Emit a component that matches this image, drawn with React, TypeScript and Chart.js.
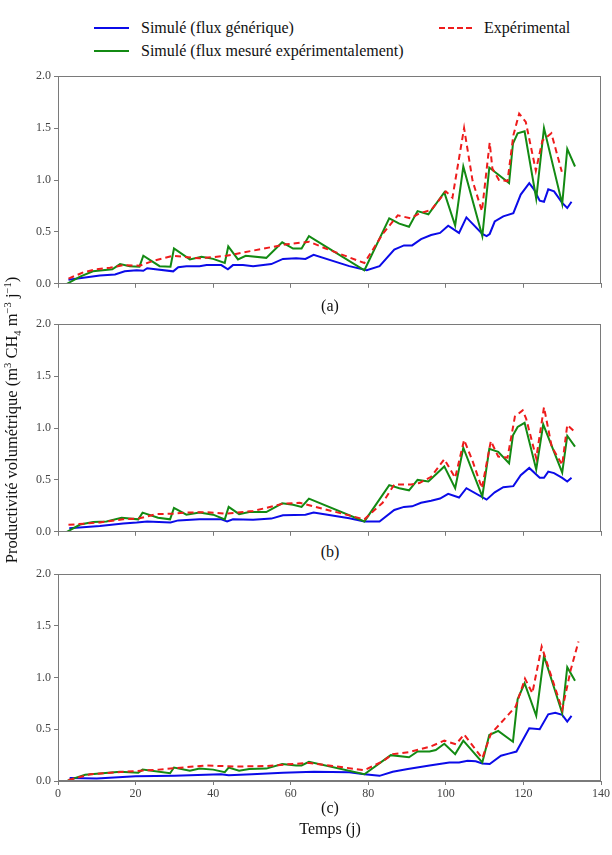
import React, { useEffect, useRef } from "react";
import { Chart, registerables } from "chart.js";
Chart.register(...registerables);

const FONT = '"Liberation Serif", "Times New Roman", Times, serif';
const BLUE = "#0b0be8";
const GREEN = "#138a13";
const RED = "#ee1c1c";
const AXIS = "#7a7a7a";
const TICK_TEXT = "#444444";

const xTicks = [0, 20, 40, 60, 80, 100, 120, 140];
const yTicks = [0, 0.5, 1.0, 1.5, 2.0];

// ---------- Panel (a) ----------
const aBlueDays = [2.7, 10.8, 14.7, 17.2, 20.3, 22, 23, 29.7, 31, 33.1, 36.5, 38.3, 42.1, 43.8, 45.1, 47.7, 50.3, 55, 58, 61.4, 63.8, 65.9, 75.1, 79.6, 82.9, 86.7, 89.2, 91.3, 93.6, 96.2, 98.5, 100.6, 103.4, 105.3, 109.4, 110.5, 111.3, 112.6, 114.8, 117.4, 119.3, 121.5, 122.7, 124.2, 125.3, 126.4, 127.9, 130.0, 131.3, 132.4];
const aBlueVals = [0.04, 0.08, 0.09, 0.12, 0.13, 0.125, 0.15, 0.12, 0.16, 0.17, 0.17, 0.18, 0.18, 0.14, 0.18, 0.18, 0.17, 0.19, 0.24, 0.245, 0.24, 0.28, 0.17, 0.13, 0.17, 0.33, 0.37, 0.37, 0.43, 0.47, 0.49, 0.56, 0.49, 0.64, 0.48, 0.46, 0.48, 0.60, 0.65, 0.68, 0.86, 0.97, 0.91, 0.80, 0.79, 0.91, 0.89, 0.78, 0.73, 0.79];
const aGreenDays = [2.3, 5.7, 9, 14, 16, 18.5, 21, 22, 26.2, 29, 29.9, 34, 37, 40, 43, 43.9, 46.4, 48.4, 53.7, 57.8, 60.6, 62.8, 64.7, 79, 85.4, 88, 90.5, 92.7, 95.5, 99.6, 102.4, 104.5, 109.4, 111.2, 116.3, 117.3, 118.5, 120.3, 123.3, 125.3, 130, 131.3, 133.3];
const aGreenVals = [0, 0.07, 0.12, 0.14, 0.19, 0.17, 0.165, 0.27, 0.17, 0.165, 0.34, 0.235, 0.26, 0.24, 0.20, 0.36, 0.235, 0.27, 0.25, 0.40, 0.34, 0.34, 0.46, 0.13, 0.63, 0.58, 0.55, 0.70, 0.67, 0.88, 0.56, 1.13, 0.46, 1.12, 0.97, 1.35, 1.45, 1.47, 0.82, 1.50, 0.77, 1.30, 1.13];
const aRedDays = [2.7, 6.5, 9.9, 13.4, 16.8, 21.1, 24.5, 29.7, 36.5, 43.4, 50.3, 58.8, 64.8, 69, 79, 83.7, 87.6, 91, 93.2, 96.2, 100, 101.7, 104.7, 106.9, 109.3, 111.3, 112, 113.7, 115.9, 117.4, 118.9, 120.6, 123.2, 124.9, 127.2, 129.9];
const aRedVals = [0.05, 0.11, 0.14, 0.155, 0.18, 0.175, 0.22, 0.27, 0.245, 0.27, 0.32, 0.38, 0.405, 0.34, 0.20, 0.48, 0.66, 0.63, 0.68, 0.71, 0.89, 0.83, 1.50, 0.99, 0.70, 1.36, 1.11, 1.00, 0.99, 1.43, 1.64, 1.56, 1.09, 1.38, 1.45, 1.08];

// ---------- Panel (b) ----------
const bBlueDays = [2.9, 10.8, 16.8, 20.3, 23, 29, 31, 36.5, 42.1, 43.6, 45.1, 50.3, 55, 58, 63.8, 65.9, 75.1, 79, 82.9, 86.7, 89.2, 91.3, 93.6, 96.2, 98.5, 100.6, 103.4, 105.3, 110.5, 112.6, 114.8, 117.4, 119.3, 121.5, 124.2, 125.3, 126.4, 127.9, 130, 131.3, 132.4];
const bBlueVals = [0.035, 0.057, 0.08, 0.09, 0.10, 0.09, 0.11, 0.12, 0.12, 0.10, 0.12, 0.115, 0.127, 0.16, 0.165, 0.185, 0.13, 0.10, 0.10, 0.21, 0.24, 0.245, 0.28, 0.30, 0.32, 0.365, 0.33, 0.42, 0.31, 0.38, 0.43, 0.44, 0.545, 0.615, 0.52, 0.52, 0.58, 0.565, 0.52, 0.485, 0.52];
const bGreenDays = [2.3, 5.7, 9.1, 12.5, 16.4, 20.7, 21.8, 25.8, 28.9, 29.9, 33.1, 36.5, 40, 43, 44, 46.7, 49.3, 53.7, 57.8, 60.6, 62.8, 64.7, 79, 85.4, 88, 90.5, 92.7, 95.5, 99.6, 102.4, 104.5, 109.4, 111.2, 113.5, 116.3, 117.3, 118.5, 120.3, 123.3, 125.1, 130, 131.3, 133.3];
const bGreenVals = [0, 0.07, 0.095, 0.10, 0.135, 0.12, 0.185, 0.135, 0.12, 0.23, 0.165, 0.185, 0.165, 0.12, 0.24, 0.17, 0.19, 0.19, 0.275, 0.26, 0.24, 0.32, 0.10, 0.45, 0.42, 0.40, 0.50, 0.485, 0.63, 0.42, 0.81, 0.34, 0.80, 0.77, 0.66, 0.93, 1.01, 1.05, 0.60, 1.035, 0.57, 0.925, 0.82];
const bRedDays = [2.7, 10.8, 16.8, 21, 25.3, 29.7, 33.1, 38.3, 43.4, 50.3, 58, 62.3, 67.5, 79, 83.7, 86.7, 91, 93.2, 96.2, 99.6, 102.4, 104.7, 106.9, 109.3, 111.6, 113.5, 115.9, 117.8, 119.8, 120.7, 123.3, 125.3, 127.3, 130, 131.3, 133.3];
const bRedVals = [0.067, 0.09, 0.12, 0.13, 0.17, 0.175, 0.185, 0.19, 0.175, 0.20, 0.27, 0.28, 0.23, 0.12, 0.28, 0.455, 0.455, 0.47, 0.53, 0.70, 0.52, 0.885, 0.68, 0.42, 0.875, 0.725, 0.715, 1.11, 1.17, 1.09, 0.71, 1.20, 0.82, 0.645, 1.03, 0.96];

// ---------- Panel (c) ----------
const cBlueDays = [3, 10, 20, 30, 42, 44, 50, 58, 66, 75.1, 79, 82.9, 86.3, 90.2, 95.8, 100.9, 103.4, 105.6, 107.7, 109.4, 111.3, 114.2, 116.2, 118.2, 121.5, 124.2, 126.4, 128.2, 130, 131.3, 132.4];
const cBlueVals = [0.03, 0.025, 0.045, 0.05, 0.065, 0.055, 0.065, 0.08, 0.09, 0.085, 0.065, 0.05, 0.09, 0.115, 0.15, 0.18, 0.18, 0.195, 0.19, 0.17, 0.165, 0.245, 0.265, 0.285, 0.51, 0.50, 0.645, 0.66, 0.64, 0.575, 0.63];
const cGreenDays = [2.3, 4.5, 7, 16, 20.7, 21.8, 28.9, 29.9, 34, 36.5, 40, 43, 44, 46.7, 49.3, 53.7, 57.8, 61.4, 62.8, 64.7, 79, 85.8, 90.5, 92.7, 95.8, 97.4, 99.6, 102.4, 104.5, 109.4, 111.2, 113.5, 117.3, 118.5, 120.3, 123.3, 125.3, 130, 131.3, 133.3];
const cGreenVals = [0, 0.03, 0.06, 0.09, 0.08, 0.11, 0.075, 0.13, 0.10, 0.12, 0.11, 0.085, 0.13, 0.10, 0.115, 0.12, 0.165, 0.15, 0.15, 0.185, 0.065, 0.25, 0.23, 0.285, 0.285, 0.30, 0.36, 0.26, 0.39, 0.18, 0.445, 0.485, 0.38, 0.79, 0.945, 0.63, 1.21, 0.655, 1.10, 0.97];
const cRedDays = [2.7, 8.3, 17.2, 26, 38, 46, 53.7, 58.8, 64.8, 70.8, 79, 83.7, 86.3, 90.5, 95.8, 99.6, 102.6, 104.7, 109.4, 111.6, 118, 120.4, 122.3, 124.7, 130, 132.2, 134.2];
const cRedVals = [0.01, 0.065, 0.09, 0.11, 0.15, 0.14, 0.145, 0.16, 0.175, 0.145, 0.105, 0.19, 0.26, 0.28, 0.33, 0.39, 0.355, 0.45, 0.22, 0.455, 0.72, 0.99, 0.85, 1.30, 0.69, 1.075, 1.35];

const pts = (d: number[], v: number[]) => d.map((x, i) => ({ x, y: v[i] }));

const framePlugin = {
  id: "frame",
  afterDraw(chart: any) {
    const { ctx, chartArea: a } = chart;
    ctx.save();
    ctx.strokeStyle = AXIS;
    ctx.lineWidth = 1;
    ctx.strokeRect(
      Math.round(a.left) + 0.5,
      Math.round(a.top) + 0.5,
      Math.round(a.right - a.left) - 1,
      Math.round(a.bottom - a.top) - 1
    );
    ctx.restore();
  },
};

type PanelProps = {
  top: number;
  height: number;
  xHeight: number;
  showX: boolean;
  blue: [number[], number[]];
  green: [number[], number[]];
  red: [number[], number[]];
};

function Panel({ top, height, xHeight, showX, blue, green, red }: PanelProps) {
  const ref = useRef<HTMLCanvasElement>(null);
  useEffect(() => {
    if (!ref.current) return;
    const chart = new Chart(ref.current, {
      type: "line",
      data: {
        datasets: [
          {
            label: "Expérimental",
            data: pts(red[0], red[1]),
            borderColor: RED,
            borderWidth: 2,
            borderDash: [6, 4],
            pointRadius: 0,
            fill: false,
            tension: 0,
          },
          {
            label: "Simulé (flux mesuré expérimentalement)",
            data: pts(green[0], green[1]),
            borderColor: GREEN,
            borderWidth: 2,
            pointRadius: 0,
            fill: false,
            tension: 0,
          },
          {
            label: "Simulé (flux générique)",
            data: pts(blue[0], blue[1]),
            borderColor: BLUE,
            borderWidth: 2,
            pointRadius: 0,
            fill: false,
            tension: 0,
          },
        ],
      },
      options: {
        responsive: false,
        animation: false,
        layout: { padding: { top: 10, right: 11, left: 0, bottom: 0 } },
        plugins: { legend: { display: false }, tooltip: { enabled: false } },
        scales: {
          x: {
            type: "linear",
            min: 0,
            max: 140,
            afterBuildTicks: (s: any) => {
              s.ticks = xTicks.map((v) => ({ value: v }));
            },
            afterFit: (s: any) => {
              s.height = xHeight;
            },
            ticks: {
              callback: (v: any) => (showX ? String(v) : ""),
              font: { family: FONT, size: 12 },
              color: TICK_TEXT,
              padding: 2,
              maxRotation: 0,
            },
            grid: { display: true, drawOnChartArea: false, drawTicks: true, tickLength: 4, color: AXIS },
            border: { display: true, color: AXIS },
          },
          y: {
            min: 0,
            max: 2,
            afterBuildTicks: (s: any) => {
              s.ticks = yTicks.map((v) => ({ value: v }));
            },
            afterFit: (s: any) => {
              s.width = 58;
            },
            ticks: {
              callback: (v: any) => Number(v).toFixed(1),
              font: { family: FONT, size: 12 },
              color: TICK_TEXT,
              padding: 3,
            },
            grid: { display: true, drawOnChartArea: false, drawTicks: true, tickLength: 4, color: AXIS },
            border: { display: true, color: AXIS },
          },
        },
      },
      plugins: [framePlugin],
    } as any);
    return () => chart.destroy();
  }, []);
  return (
    <canvas
      ref={ref}
      width={612}
      height={height}
      style={{ position: "absolute", left: 0, top, width: 612, height }}
    />
  );
}

const textStyle: React.CSSProperties = {
  position: "absolute",
  fontFamily: FONT,
  fontSize: 16,
  color: "#111",
  whiteSpace: "nowrap",
  lineHeight: "18px",
  height: 18,
};

function Label({ x, y, text, center }: { x: number; y: number; text: string; center?: boolean }) {
  return (
    <div
      style={{
        ...textStyle,
        left: center ? x - 150 : x,
        top: y - 9,
        width: center ? 300 : undefined,
        textAlign: center ? "center" : "left",
      }}
    >
      {text}
    </div>
  );
}

function LegendLine({ x, y, w, color, dashed }: { x: number; y: number; w: number; color: string; dashed?: boolean }) {
  return (
    <div
      style={{
        position: "absolute",
        left: x,
        top: y - 1,
        width: w,
        height: 0,
        borderTop: `2px ${dashed ? "dashed" : "solid"} ${color}`,
      }}
    />
  );
}

export default function App() {
  return (
    <div style={{ position: "absolute", left: 0, top: 0, width: 612, height: 855, background: "#fff", overflow: "hidden" }}>
      <LegendLine x={94} y={28} w={35} color={BLUE} />
      <Label x={141} y={28} text="Simulé (flux générique)" />
      <LegendLine x={94} y={51} w={35} color={GREEN} />
      <Label x={141} y={51} text="Simulé (flux mesuré expérimentalement)" />
      <LegendLine x={439} y={28} w={33} color={RED} dashed />
      <Label x={484} y={28} text="Expérimental" />

      <Panel top={66} height={228} xHeight={8} showX={false} blue={[aBlueDays, aBlueVals]} green={[aGreenDays, aGreenVals]} red={[aRedDays, aRedVals]} />
      <Panel top={314} height={228} xHeight={8} showX={false} blue={[bBlueDays, bBlueVals]} green={[bGreenDays, bGreenVals]} red={[bRedDays, bRedVals]} />
      <Panel top={564} height={236} xHeight={19} showX={true} blue={[cBlueDays, cBlueVals]} green={[cGreenDays, cGreenVals]} red={[cRedDays, cRedVals]} />

      <Label x={330} y={306} text="(a)" center />
      <Label x={330} y={552} text="(b)" center />
      <Label x={330} y={808} text="(c)" center />
      <Label x={330} y={829} text="Temps (j)" center />

      <div
        style={{
          ...textStyle,
          fontSize: 16.5,
          left: 12 - 220,
          top: 420 - 9,
          width: 440,
          textAlign: "center",
          transform: "rotate(-90deg)",
          transformOrigin: "50% 50%",
        }}
      >
        Productivité volumétrique (m<sup style={{ fontSize: 10.5, lineHeight: 0 }}>3</sup> CH
        <sub style={{ fontSize: 10.5, lineHeight: 0 }}>4</sub> m<sup style={{ fontSize: 10.5, lineHeight: 0 }}>−3</sup> j
        <sup style={{ fontSize: 10.5, lineHeight: 0 }}>−1</sup>)
      </div>
    </div>
  );
}
